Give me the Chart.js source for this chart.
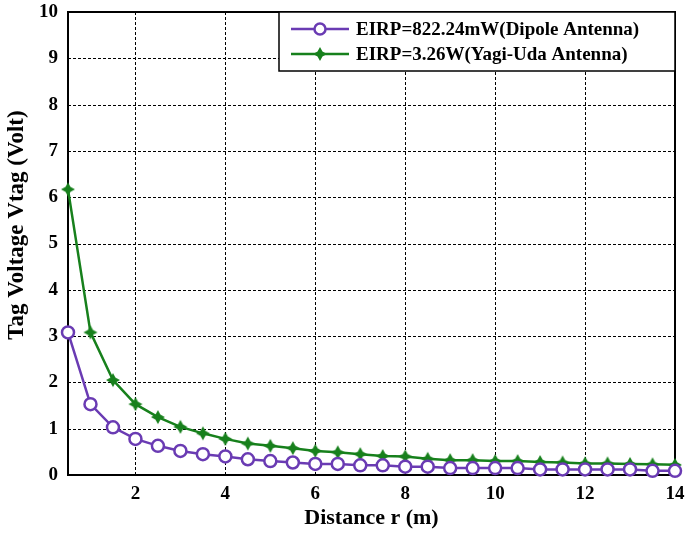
<!DOCTYPE html>
<html>
<head>
<meta charset="utf-8">
<script src="https://cdn.jsdelivr.net/npm/chart.js@4/dist/chart.umd.min.js"></script>
<style>
  html, body { margin: 0; padding: 0; background: #fff; }
  #wrap { width: 686px; height: 534px; }
</style>
</head>
<body>
<div id="wrap"><canvas id="c" width="686" height="534"></canvas></div>
<script>
// Distance from the reader (m)
const distance = [0.5, 1, 1.5, 2, 2.5, 3, 3.5, 4, 4.5, 5, 5.5, 6, 6.5, 7, 7.5, 8, 8.5, 9, 9.5, 10, 10.5, 11, 11.5, 12, 12.5, 13, 13.5, 14];
// Tag voltage (V) with the dipole antenna
const vDipole = [3.08, 1.53, 1.03, 0.78, 0.63, 0.52, 0.45, 0.40, 0.34, 0.30, 0.27, 0.24, 0.24, 0.21, 0.21, 0.18, 0.18, 0.15, 0.15, 0.15, 0.15, 0.12, 0.12, 0.12, 0.12, 0.12, 0.09, 0.09];
// Tag voltage (V) with the Yagi-Uda antenna
const vYagi = [6.17, 3.08, 2.05, 1.53, 1.25, 1.04, 0.90, 0.78, 0.68, 0.63, 0.58, 0.52, 0.49, 0.45, 0.41, 0.40, 0.35, 0.32, 0.32, 0.30, 0.30, 0.28, 0.27, 0.25, 0.25, 0.24, 0.23, 0.22];
const seriesNames = ['EIRP=822.24mW(Dipole Antenna)', 'EIRP=3.26W(Yagi-Uda Antenna)'];
const xTicks = [2, 4, 6, 8, 10, 12, 14];
const yTicks = [0, 1, 2, 3, 4, 5, 6, 7, 8, 9, 10];
const yTitle = 'Tag Voltage Vtag (Volt)';

const PURPLE = '#6a3bb3';
const GREEN = '#17801c';
const FONT = "'Liberation Serif', 'Times New Roman', serif";

// four-point filled star marker
function starMarker(color, r) {
  const s = r * 2 + 2;
  const cv = document.createElement('canvas');
  cv.width = s; cv.height = s;
  const g = cv.getContext('2d');
  const c = s / 2, inner = r * 0.5;
  g.beginPath();
  for (let i = 0; i < 8; i++) {
    const a = -Math.PI / 2 + i * Math.PI / 4;
    const rr = i % 2 === 0 ? r : inner;
    const px = c + rr * Math.cos(a), py = c + rr * Math.sin(a);
    i === 0 ? g.moveTo(px, py) : g.lineTo(px, py);
  }
  g.closePath();
  g.fillStyle = color;
  g.fill();
  return cv;
}
const yagiMarker = starMarker(GREEN, 7);

// dashed grid at the tick positions
const dashedGrid = {
  id: 'dashedGrid',
  beforeDatasetsDraw(chart) {
    const ctx = chart.ctx, a = chart.chartArea;
    const xs = chart.scales.x, ys = chart.scales.y;
    ctx.save();
    ctx.strokeStyle = '#000';
    ctx.lineWidth = 1;
    ctx.setLineDash([3, 2]);
    xTicks.forEach(v => {
      const px = Math.round(xs.getPixelForValue(v)) + 0.5;
      ctx.beginPath(); ctx.moveTo(px, a.top); ctx.lineTo(px, a.bottom); ctx.stroke();
    });
    yTicks.forEach(v => {
      const py = Math.round(ys.getPixelForValue(v)) + 0.5;
      ctx.beginPath(); ctx.moveTo(a.left, py); ctx.lineTo(a.right, py); ctx.stroke();
    });
    ctx.restore();
  }
};

// solid frame around the plot area, plus the vertical axis title
const frame = {
  id: 'frame',
  beforeDatasetsDraw(chart) {
    const ctx = chart.ctx, a = chart.chartArea;
    ctx.save();
    ctx.strokeStyle = '#000';
    ctx.lineWidth = 2;
    ctx.strokeRect(a.left, a.top, a.right - a.left, a.bottom - a.top);
    ctx.translate(17, 225);
    ctx.rotate(-Math.PI / 2);
    ctx.font = 'bold 23px ' + FONT;
    ctx.fillStyle = '#000';
    ctx.textAlign = 'center';
    ctx.textBaseline = 'middle';
    ctx.fillText(yTitle, 0, 0);
    ctx.restore();
  }
};

// boxed legend in the upper-right corner of the plot
const boxedLegend = {
  id: 'boxedLegend',
  afterDraw(chart) {
    const ctx = chart.ctx, area = chart.chartArea;
    const w = 396, h = 59;
    const x0 = area.right - w, y0 = area.top;
    ctx.save();
    ctx.fillStyle = '#fff';
    ctx.fillRect(x0, y0, w, h);
    ctx.strokeStyle = '#000';
    ctx.lineWidth = 1.5;
    ctx.strokeRect(x0, y0, w, h);
    ctx.font = 'bold 19px ' + FONT;
    ctx.textBaseline = 'middle';
    const rows = [y0 + 17, y0 + 42];
    chart.data.datasets.forEach((ds, i) => {
      const y = rows[i];
      ctx.strokeStyle = ds.borderColor;
      ctx.lineWidth = 2.5;
      ctx.beginPath();
      ctx.moveTo(x0 + 12, y);
      ctx.lineTo(x0 + 70, y);
      ctx.stroke();
      if (i === 0) {
        ctx.beginPath();
        ctx.arc(x0 + 41, y, 5.5, 0, Math.PI * 2);
        ctx.fillStyle = '#fff';
        ctx.fill();
        ctx.stroke();
      } else {
        ctx.drawImage(yagiMarker, x0 + 41 - yagiMarker.width / 2, y - yagiMarker.height / 2);
      }
      ctx.fillStyle = '#000';
      ctx.fillText(ds.label, x0 + 77, y + 1);
    });
    ctx.restore();
  }
};

new Chart(document.getElementById('c'), {
  type: 'line',
  data: {
    datasets: [
      {
        label: seriesNames[0],
        data: distance.map((x, i) => ({ x, y: vDipole[i] })),
        borderColor: PURPLE,
        backgroundColor: '#fff',
        borderWidth: 2.5,
        pointStyle: 'circle',
        pointRadius: 6,
        pointBorderWidth: 2.5,
        pointBackgroundColor: '#fff',
        pointBorderColor: PURPLE,
        tension: 0,
        clip: false
      },
      {
        label: seriesNames[1],
        data: distance.map((x, i) => ({ x, y: vYagi[i] })),
        borderColor: GREEN,
        backgroundColor: GREEN,
        borderWidth: 2.5,
        pointStyle: yagiMarker,
        pointRadius: 7,
        tension: 0,
        clip: false
      }
    ]
  },
  options: {
    responsive: false,
    animation: false,
    events: [],
    layout: { padding: 0 },
    plugins: { legend: { display: false }, tooltip: { enabled: false } },
    scales: {
      x: {
        type: 'linear',
        min: 0.5,
        max: 14,
        afterBuildTicks(s) { s.ticks = xTicks.map(v => ({ value: v })); },
        afterFit(s) { s.height = 59; s.paddingLeft = 0; s.paddingRight = 11; },
        grid: { display: false, drawTicks: false },
        border: { display: false },
        ticks: {
          color: '#000',
          padding: 8,
          maxRotation: 0,
          font: { family: FONT, size: 19, weight: 'bold' }
        },
        title: {
          display: true,
          text: 'Distance r (m)',
          color: '#000',
          padding: { top: 0, bottom: 2 },
          font: { family: FONT, size: 22, weight: 'bold' }
        }
      },
      y: {
        type: 'linear',
        min: 0,
        max: 10,
        afterBuildTicks(s) { s.ticks = yTicks.map(v => ({ value: v })); },
        afterFit(s) { s.width = 68; s.paddingTop = 12; s.paddingBottom = 0; },
        grid: { display: false, drawTicks: false },
        border: { display: false },
        ticks: {
          color: '#000',
          padding: 10,
          font: { family: FONT, size: 19, weight: 'bold' }
        },
        title: { display: false }
      }
    }
  },
  plugins: [dashedGrid, frame, boxedLegend]
});
</script>
</body>
</html>
